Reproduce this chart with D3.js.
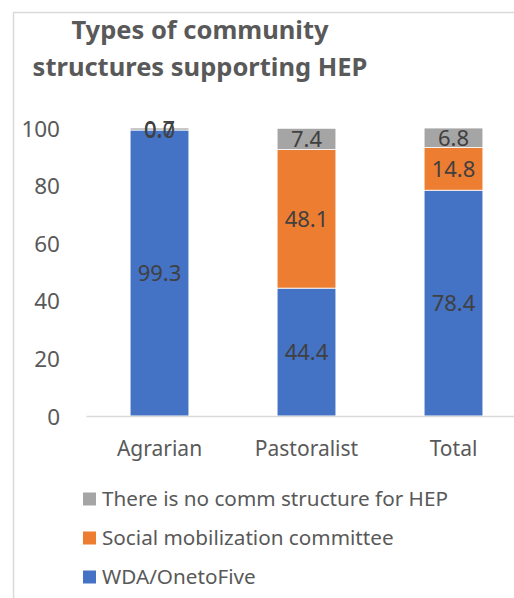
<!DOCTYPE html>
<html><head><meta charset="utf-8">
<script src="https://cdn.jsdelivr.net/npm/d3@7"></script>
<style>body{margin:0;background:#fff;} svg{display:block;}</style>
</head><body>
<svg id="c" width="514" height="598"></svg>
<script>
const categories = ["Agrarian", "Pastoralist", "Total"];
const seriesNames = ["WDA/OnetoFive", "Social mobilization committee", "There is no comm structure for HEP"];
const wda = [99.3, 44.4, 78.4];
const social = [0.0, 48.1, 14.8];
const noStruct = [0.7, 7.4, 6.8];
const yTicks = [0, 20, 40, 60, 80, 100];
const colors = ["#4472C4", "#ED7D31", "#A5A5A5"];
const titleLines = ["Types of community", "structures supporting HEP"];

const font = "'Noto Sans', sans-serif";
const svg = d3.select("#c");

// frame
svg.append("line").attr("x1",13.5).attr("x2",13.5).attr("y1",12).attr("y2",598).attr("stroke","#d9d9d9").attr("stroke-width",1.5);
svg.append("line").attr("x1",13).attr("x2",514).attr("y1",12.5).attr("y2",12.5).attr("stroke","#d9d9d9").attr("stroke-width",1.5);

// title
svg.append("text").attr("x",200).attr("y",39).attr("text-anchor","middle")
  .attr("font-family",font).attr("font-weight","bold").attr("font-size",25.5).attr("fill","#595959")
  .selectAll("tspan").data(titleLines).join("tspan").attr("x",200).attr("dy",(d,i)=>i?37:0).text(d=>d);

const data = categories.map((c,i)=>({cat:c, s0:wda[i], s1:social[i], s2:noStruct[i]}));
const stack = d3.stack().keys(["s0","s1","s2"])(data);

const x = d3.scaleBand().domain(categories).range([86, 527]).paddingInner(0.6).paddingOuter(0.3);
const y = d3.scaleLinear().domain([0,100]).range([416,128]);

// y axis labels
const yAxis = d3.axisLeft(y).tickValues(yTicks).tickSize(0).tickPadding(0);
const gy = svg.append("g").attr("transform","translate(60,0)").call(yAxis);
gy.select(".domain").remove();
gy.selectAll("text").attr("font-family",font).attr("font-size",22.5).attr("fill","#595959").attr("dy","0.36em");

// bars
const g = svg.append("g");
stack.forEach((layer,k)=>{
  g.selectAll(null).data(layer).join("rect")
    .attr("x",d=>x(d.data.cat)).attr("width",x.bandwidth())
    .attr("y",d=>y(d[1])).attr("height",d=>y(d[0])-y(d[1]))
    .attr("fill",colors[k]).attr("stroke","#fff").attr("stroke-width",0.8);
});

// x axis
const xAxis = d3.axisBottom(x).tickSize(0).tickPadding(0);
const gx = svg.append("g").attr("transform","translate(0,416)").call(xAxis);
gx.select(".domain").attr("stroke","#d9d9d9").attr("stroke-width",1.5);
gx.selectAll("text").attr("font-family",font).attr("font-size",21).attr("fill","#595959").attr("y",0).attr("dy","40px");

// labels
stack.forEach((layer,k)=>{
  g.selectAll(null).data(layer).join("text")
    .attr("x",d=>x(d.data.cat)+x.bandwidth()/2)
    .attr("y",d=>y((d[0]+d[1])/2)).attr("dy","0.36em")
    .attr("text-anchor","middle").attr("font-family",font).attr("font-size",22).attr("fill","#404040")
    .text(d=>(d[1]-d[0]).toFixed(1));
});

// legend
const legendOrder = [2,1,0];
const lg = svg.append("g");
legendOrder.forEach((k,i)=>{
  const cy = 499 + i*39;
  lg.append("rect").attr("x",83).attr("y",cy-6.5).attr("width",13).attr("height",13).attr("fill",colors[k]);
  lg.append("text").attr("x",102).attr("y",cy).attr("dy","0.36em").attr("font-family",font).attr("font-size",20.7).attr("fill","#595959").text(seriesNames[k]);
});
</script>
</body></html>
